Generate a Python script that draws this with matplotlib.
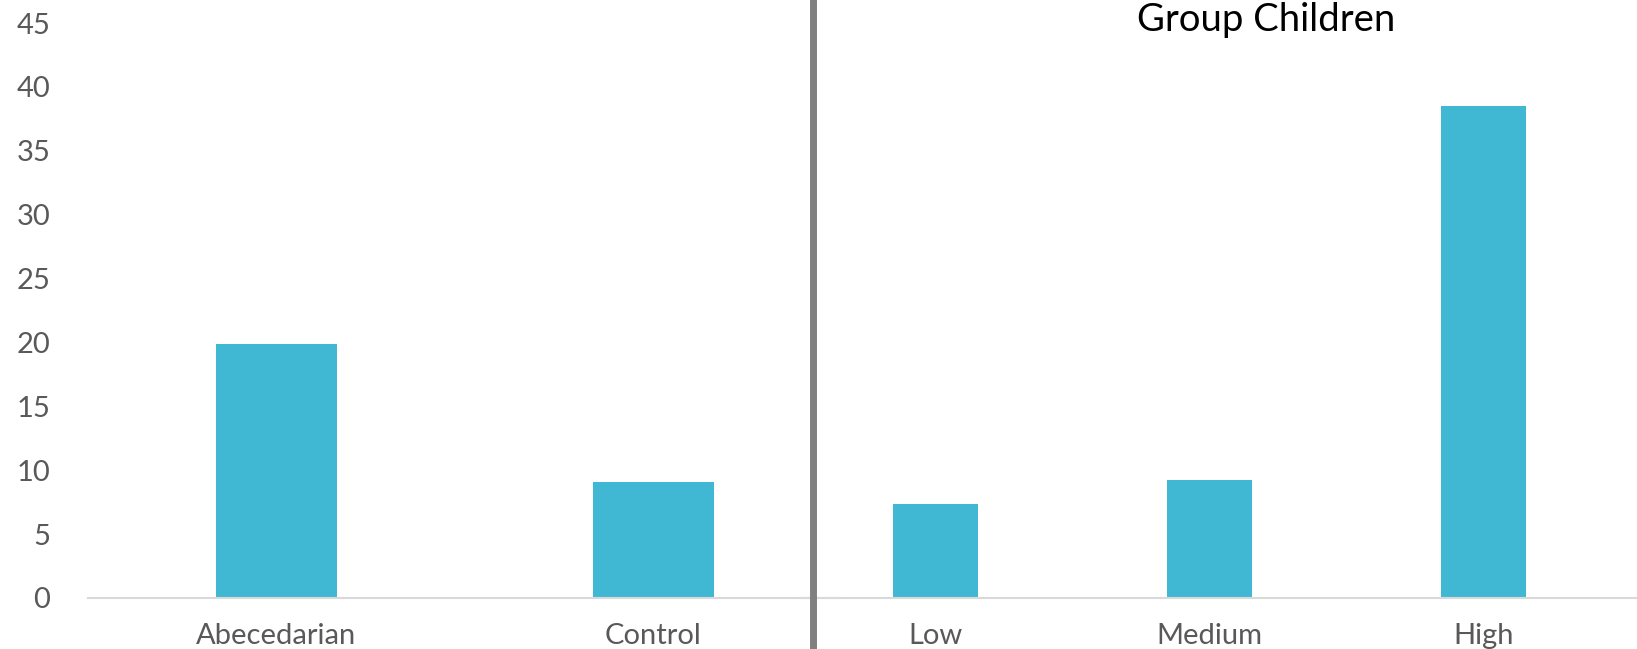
import matplotlib
matplotlib.use("Agg")
import matplotlib.pyplot as plt
from matplotlib.lines import Line2D

plt.rcParams['font.family'] = ['Lato', 'DejaVu Sans']

# data
left_cats = ['Abecedarian', 'Control']
left_vals = [19.9, 9.05]
right_cats = ['Low', 'Medium', 'High']
right_vals = [7.35, 9.2, 38.5]
yticks = [0, 5, 10, 15, 20, 25, 30, 35, 40, 45]
title = 'Group Children'

bar_color = '#41B8D3'
grid_gray = '#D9D9D9'
text_gray = '#595959'

W, H = 1637, 649
fig = plt.figure(figsize=(W / 100, H / 100), dpi=100)

y0 = (H - 598) / H
y1 = (H - 23) / H

axL = fig.add_axes([88 / W, y0, (842 - 88) / W, y1 - y0])
axR = fig.add_axes([799 / W, y0, (W - 799) / W, y1 - y0])

axL.bar(range(len(left_cats)), left_vals, width=0.32, color=bar_color)
axR.bar(range(len(right_cats)), right_vals, width=0.31, color=bar_color)

axL.set_xlim(-0.5, 1.5)
axR.set_xlim(-0.5, 2.5 + 17 / 273.5)

for ax, cats in ((axL, left_cats), (axR, right_cats)):
    ax.set_ylim(0, 45)
    ax.set_xticks(range(len(cats)))
    ax.set_xticklabels(cats)
    ax.patch.set_alpha(0)
    for s in ('top', 'right', 'left'):
        ax.spines[s].set_visible(False)
    ax.spines['bottom'].set_color(grid_gray)
    ax.spines['bottom'].set_linewidth(1.5)
    ax.tick_params(axis='x', length=0, pad=18, labelsize=21, labelcolor=text_gray)

axL.set_yticks(yticks)
axL.tick_params(axis='y', length=0, pad=27, labelsize=21, labelcolor=text_gray)
axR.set_yticks([])

# divider
fig.add_artist(Line2D([812.5 / W, 812.5 / W], [0, 1], color='#808080', linewidth=5,
                      transform=fig.transFigure))

fig.text(1266 / W, (H - 31) / H, title, ha='center', va='baseline', fontsize=27.5,
         color='black')

fig.savefig('out.png', dpi=100)
